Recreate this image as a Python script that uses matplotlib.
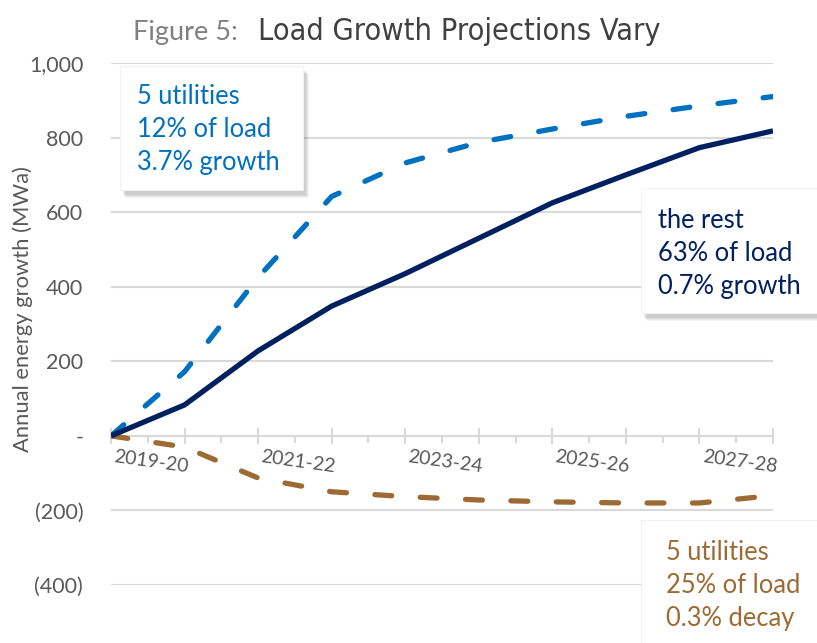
import matplotlib.pyplot as plt
import matplotlib.patches as patches
from matplotlib import font_manager
from matplotlib.transforms import ScaledTranslation

# data (MWa growth vs 2018-19)
years = ['2018-19', '2019-20', '2020-21', '2021-22', '2022-23',
         '2023-24', '2024-25', '2025-26', '2026-27', '2027-28']
rest = [0, 83, 228, 348, 435, 530, 625, 700, 773, 818]
five_growth = [0, 172, 425, 642, 732, 787, 823, 857, 885, 910]
five_decay = [0, -30, -113, -150, -163, -172, -177, -180, -180, -160]

navy = '#002060'
blue = '#0070C0'
brown = '#9E6A33'
grey = '#595959'

names = {f.name for f in font_manager.fontManager.ttflist}
body_font = 'Lato' if 'Lato' in names else 'DejaVu Sans'
if 'Liberation Sans Narrow' in names:
    narrow_font, narrow_stretch, title_size = 'Liberation Sans Narrow', 'normal', 26
else:
    narrow_font, narrow_stretch, title_size = 'DejaVu Sans', 'condensed', 22
plt.rcParams['font.family'] = [body_font, 'DejaVu Sans']

fig = plt.figure(figsize=(8.17, 6.43), dpi=100)
ax = fig.add_axes([111 / 817, 1 - 585 / 643, (773 - 111) / 817, (585 - 63) / 643])

x = list(range(len(years)))
ax.plot(x, five_growth, color=blue, lw=3.8, dashes=(3.2, 5.4), dash_capstyle='round', zorder=3)
ax.plot(x, five_decay, color=brown, lw=3.8, dashes=(3.2, 5.4), dash_capstyle='round', zorder=3)
ax.plot(x, rest, color=navy, lw=3.8, solid_capstyle='butt', zorder=4)

ax.set_xlim(0, 9)
ax.set_ylim(-400, 1000)
ax.set_yticks(range(-400, 1001, 200))
ylabels = []
for v in range(-400, 1001, 200):
    if v == 0:
        ylabels.append('-')
    elif v < 0:
        ylabels.append('({:,})'.format(-v))
    else:
        ylabels.append('{:,}'.format(v))
ax.set_yticklabels(ylabels, fontsize=15.5, color=grey)
ax.tick_params(axis='y', length=0, pad=20)
ax.grid(axis='y', color='#D9D9D9', lw=1.5)
ax.set_axisbelow(True)

for s in ['top', 'right', 'left']:
    ax.spines[s].set_visible(False)
ax.spines['bottom'].set_position(('data', 0))
ax.spines['bottom'].set_color('#D9D9D9')
ax.spines['bottom'].set_linewidth(1.5)

ax.set_xticks(x)
ax.set_xticklabels([y if i % 2 == 1 else '' for i, y in enumerate(years)],
                   fontsize=14, color=grey, rotation=-8, ha='right', va='top',
                   rotation_mode='anchor')
ax.set_xticks([i + 0.5 for i in range(9)], minor=True)
ax.tick_params(axis='x', which='major', direction='inout', length=11, width=1.5,
               color='#D9D9D9', pad=11)
ax.tick_params(axis='x', which='minor', direction='out', length=5, width=1.5,
               color='#D9D9D9')
# nudge the slanted labels a little right, like Excel does
shift = ScaledTranslation(5 / 100, 0, fig.dpi_scale_trans)
for lab in ax.get_xticklabels():
    lab.set_transform(lab.get_transform() + shift)

fig.text(23 / 817, 1 - 309 / 643, 'Annual energy growth (MWa)', rotation=90,
         ha='center', va='center', fontsize=15.8, color=grey)

# title
fig.text(133 / 817, 1 - 40 / 643, 'Figure 5:', fontsize=19.5, color='#808080',
         ha='left', va='baseline')
fig.text(258 / 817, 1 - 40 / 643, 'Load Growth Projections Vary', fontsize=title_size,
         color='#404040', ha='left', va='baseline', family=[narrow_font, 'DejaVu Sans'],
         stretch=narrow_stretch)


def note_box(x0, y0, x1, y1, lines, color, tx, ty):
    # shadow first, a few soft layers
    for k, a in enumerate([0.08, 0.10, 0.12, 0.15]):
        off = 8 - k
        fig.patches.append(patches.Rectangle(
            ((x0 + off - 2) / 817, 1 - (y1 + off) / 643), (x1 - x0) / 817, (y1 - y0) / 643,
            transform=fig.transFigure, facecolor='#7F7F7F', edgecolor='none',
            alpha=a, zorder=5))
    fig.patches.append(patches.Rectangle(
        (x0 / 817, 1 - y1 / 643), (x1 - x0) / 817, (y1 - y0) / 643,
        transform=fig.transFigure, facecolor='white', edgecolor='#F2F2F2',
        lw=0.8, zorder=6))
    for i, t in enumerate(lines):
        fig.text(tx / 817, 1 - (ty + 33 * i) / 643, t, fontsize=18.4, color=color,
                 ha='left', va='baseline', zorder=7)


note_box(120, 66, 303, 190, ['5 utilities', '12% of load', '3.7% growth'], blue, 137, 104)
note_box(641, 188, 830, 313, ['the rest', '63% of load', '0.7% growth'], navy, 658, 228)
note_box(641, 520, 830, 660, ['5 utilities', '25% of load', '0.3% decay'], brown, 666, 560)

fig.savefig('out.png', dpi=100)
